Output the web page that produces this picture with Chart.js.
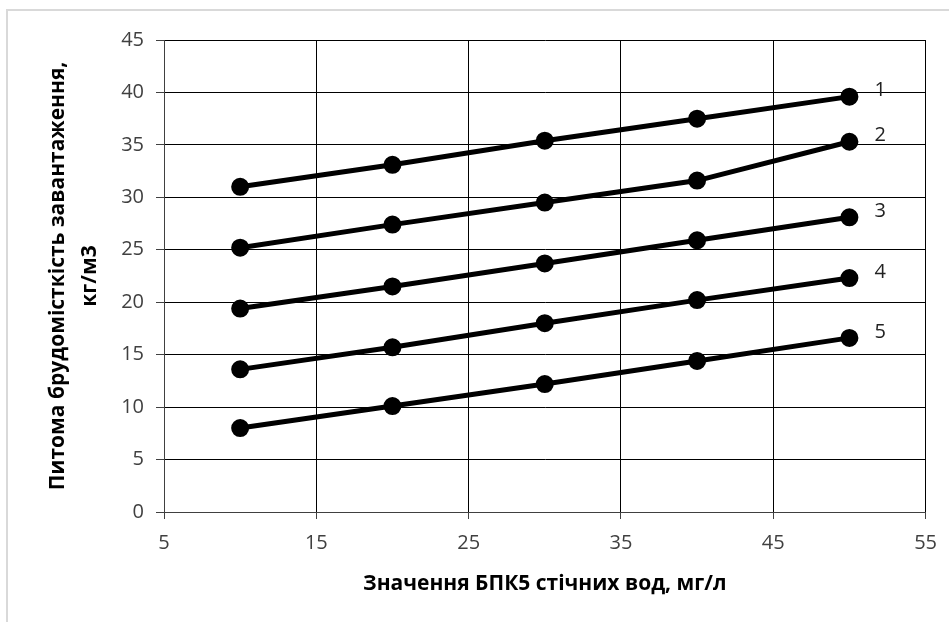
<!DOCTYPE html>
<html>
<head>
<meta charset="utf-8">
<script src="https://cdn.jsdelivr.net/npm/chart.js@4"></script>
<style>
  html, body { margin: 0; padding: 0; background: #fff; }
  #wrap { position: relative; width: 949px; height: 622px; overflow: hidden; }
  #frame { position: absolute; left: 6px; top: 9px; width: 960px; height: 640px;
           border-left: 2px solid #d9d9d9; border-top: 2px solid #d9d9d9; }
  canvas { position: absolute; left: 0; top: 0; }
</style>
</head>
<body>
<div id="wrap">
  <div id="frame"></div>
  <canvas id="myChart" width="949" height="622"></canvas>
</div>
<script>
const bpk = [10, 20, 30, 40, 50];
const line1 = [31.0, 33.1, 35.4, 37.5, 39.6];
const line2 = [25.2, 27.4, 29.5, 31.6, 35.3];
const line3 = [19.4, 21.5, 23.7, 25.9, 28.1];
const line4 = [13.6, 15.7, 18.0, 20.2, 22.3];
const line5 = [8.0, 10.1, 12.2, 14.4, 16.6];
const lineNames = ['1', '2', '3', '4', '5'];

const xTitle = 'Значення БПК5 стічних вод, мг/л';
const yTitle = ['Питома брудомісткість завантаження,', 'кг/м3'];

const dataSets = [line1, line2, line3, line4, line5].map((vals, i) => ({
    label: lineNames[i],
    data: vals.map((v, j) => ({ x: bpk[j], y: v })),
    borderColor: '#000',
    backgroundColor: '#000',
    borderWidth: 5,
    pointRadius: 6.5,
    pointHoverRadius: 6.5,
    tension: 0,
}));

// number next to the last point of each line
const endLabels = {
    id: 'endLabels',
    afterDatasetsDraw(chart) {
        const ctx = chart.ctx;
        ctx.save();
        ctx.font = '20px "Open Sans", sans-serif';
        ctx.fillStyle = '#222';
        ctx.textBaseline = 'middle';
        chart.data.datasets.forEach((ds, i) => {
            const pts = chart.getDatasetMeta(i).data;
            const last = pts[pts.length - 1];
            ctx.fillText(ds.label, last.x + 25, last.y - 6);
        });
        ctx.restore();
    }
};

const ctx = document.getElementById('myChart').getContext('2d');
const myChart = new Chart(ctx, {
    type: 'line',
    data: { datasets: dataSets },
    options: {
        responsive: false,
        animation: false,
        layout: {
            padding: { left: 8, top: 40, right: 16, bottom: 0 }
        },
        plugins: {
            legend: { display: false },
            tooltip: { enabled: false }
        },
        scales: {
            x: {
                type: 'linear',
                min: 5,
                max: 55,
                afterFit: (scale) => { scale.height = 110; },
                ticks: {
                    stepSize: 10,
                    padding: 12,
                    color: '#404040',
                    font: { family: '"Open Sans", sans-serif', size: 20 }
                },
                grid: {
                    color: '#000',
                    lineWidth: 1,
                    tickLength: 7,
                    tickColor: '#404040'
                },
                border: { color: '#404040', width: 1 },
                title: {
                    display: true,
                    text: xTitle,
                    color: '#000',
                    padding: { top: 0, bottom: 25 },
                    font: { family: '"Open Sans", sans-serif', size: 21, weight: 'bold' }
                }
            },
            y: {
                min: 0,
                max: 45,
                afterFit: (scale) => { scale.width = 156; },
                ticks: {
                    stepSize: 5,
                    padding: 12,
                    color: '#404040',
                    font: { family: '"Open Sans", sans-serif', size: 20 }
                },
                grid: {
                    color: '#000',
                    lineWidth: 1,
                    tickLength: 8,
                    tickColor: '#404040'
                },
                border: { color: '#404040', width: 1 },
                title: {
                    display: true,
                    text: yTitle,
                    color: '#000',
                    padding: { top: 34, bottom: 0 },
                    font: { family: '"Open Sans", sans-serif', size: 21, weight: 'bold', lineHeight: 1.52 }
                }
            }
        }
    },
    plugins: [endLabels]
});
</script>
</body>
</html>
